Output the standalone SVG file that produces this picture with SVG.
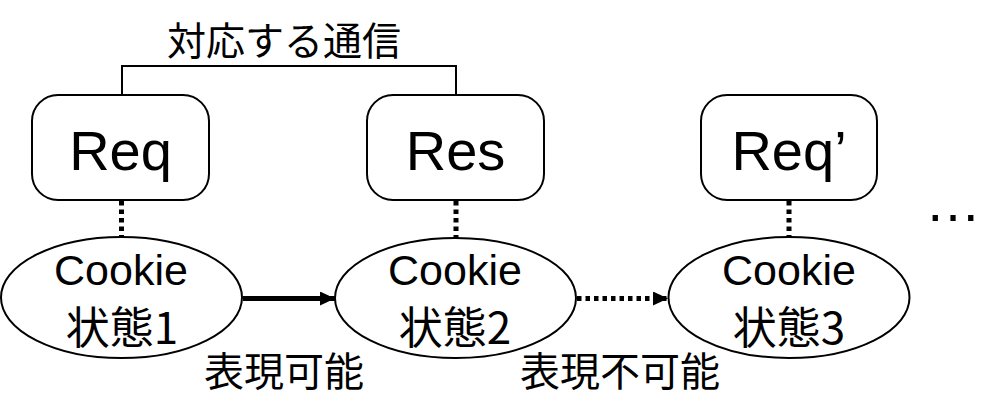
<svg xmlns="http://www.w3.org/2000/svg" width="1004" height="419" viewBox="0 0 1004 419">
<defs>
<style>
.box{fill:#fff;stroke:#000;stroke-width:2}
.ell{fill:#fff;stroke:#000;stroke-width:2}
.lat{font-family:"Liberation Sans","Noto Sans CJK JP",sans-serif;fill:#000}
.jp{font-family:"Noto Sans CJK JP","Liberation Sans",sans-serif;fill:#000}
.dot{stroke:#000;stroke-width:5;stroke-dasharray:4.5 4;fill:none}
.solid{stroke:#000;stroke-width:5;fill:none}
</style>
<marker id="ah" markerWidth="15" markerHeight="14" refX="15" refY="7" orient="auto" markerUnits="userSpaceOnUse">
<path d="M0,0 L15,7 L0,14 Z" fill="#000"/>
</marker>
</defs>
<rect width="1004" height="419" fill="#fff"/>
<g id="connectors">
<path d="M122,95 V66 H456 V95" fill="none" stroke="#000" stroke-width="2"/>
<line class="dot" x1="121.5" y1="201" x2="121.5" y2="237"/>
<line class="dot" x1="456" y1="201" x2="456" y2="238"/>
<line class="dot" x1="789" y1="201" x2="789" y2="237"/>
<line class="solid" x1="243" y1="298.5" x2="335" y2="298.5" marker-end="url(#ah)"/>
<line class="dot" x1="577" y1="298.5" x2="668" y2="298.5" marker-end="url(#ah)"/>
</g>
<g id="label-taiou"><text class="jp" x="284" y="55" font-size="39" text-anchor="middle">対応する通信</text></g>
<g id="req"><rect class="box" x="32" y="95" width="177" height="105" rx="26"/><text class="lat" x="120.5" y="170" font-size="56" text-anchor="middle">Req</text></g>
<g id="res"><rect class="box" x="367" y="95" width="177" height="105" rx="26"/><text class="lat" x="455.5" y="170" font-size="56" text-anchor="middle">Res</text></g>
<g id="req2"><rect class="box" x="701" y="95" width="176" height="105" rx="26"/><text class="lat" x="789" y="170" font-size="56" text-anchor="middle">Req’</text></g>
<g id="ellipsis"><text class="lat" x="953" y="221" font-size="56" text-anchor="middle">…</text></g>
<g id="state1"><ellipse class="ell" cx="121.5" cy="297.5" rx="120.5" ry="60.5"/><text class="lat" x="121" y="285" font-size="43" text-anchor="middle">Cookie</text><text class="jp" x="122" y="344" font-size="44" text-anchor="middle">状態1</text></g>
<g id="state2"><ellipse class="ell" cx="455.5" cy="298" rx="120.5" ry="60"/><text class="lat" x="455" y="285" font-size="43" text-anchor="middle">Cookie</text><text class="jp" x="455" y="344" font-size="44" text-anchor="middle">状態2</text></g>
<g id="state3"><ellipse class="ell" cx="789" cy="297.5" rx="120.5" ry="60.5"/><text class="lat" x="789" y="285" font-size="43" text-anchor="middle">Cookie</text><text class="jp" x="789" y="344" font-size="44" text-anchor="middle">状態3</text></g>
<g id="label-kanou"><text class="jp" x="284" y="386" font-size="40" text-anchor="middle">表現可能</text></g>
<g id="label-fukanou"><text class="jp" x="620" y="386" font-size="40" text-anchor="middle">表現不可能</text></g>
</svg>
